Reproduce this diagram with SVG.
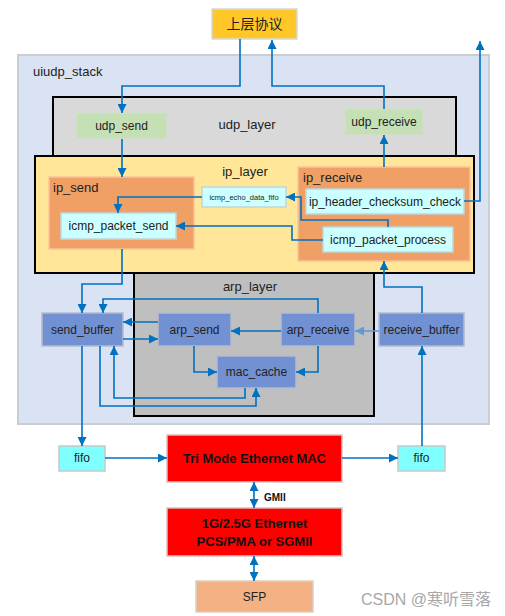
<svg xmlns="http://www.w3.org/2000/svg" width="505" height="616" viewBox="0 0 505 616">
<defs>
<style>
text{font-family:"Liberation Sans","Noto Sans CJK SC",sans-serif;fill:#222;font-size:12px}
.c{text-anchor:middle}
.b{font-weight:bold;fill:#111}
.layer{stroke:#000;stroke-width:2}
.green{fill:#C5E0B4;stroke:#D3DDD0;stroke-width:1.5}
.org{fill:#F0A064;stroke:#F7C49A;stroke-width:1.5}
.cyan{fill:#CCFFFF;stroke:#C2D6D6;stroke-width:1.5}
.blue{fill:#7291D2;stroke:#B4BCCB;stroke-width:1.5}
.fifo{fill:#80FFFF;stroke:#C0CCCC;stroke-width:1.5}
.red{fill:#FF0000;stroke:#D8C0C0;stroke-width:1.5}
.wire{fill:none;stroke:#0070C0;stroke-width:1.6}
</style>
<marker id="ah" viewBox="0 0 10 10" refX="10" refY="5" markerWidth="9" markerHeight="9" markerUnits="userSpaceOnUse" orient="auto-start-reverse"><path d="M0,0 L10,5 L0,10 z" fill="#0070C0"/></marker>
<marker id="ahl" viewBox="0 0 10 10" refX="10" refY="5" markerWidth="9" markerHeight="9" markerUnits="userSpaceOnUse" orient="auto"><path d="M0,0 L10,5 L0,10 z" fill="#5B9BD5"/></marker>
</defs>
<rect width="505" height="616" fill="#fff"/>
<g id="upper"><rect x="212" y="9" width="85" height="30" fill="#FFC828" stroke="#D8D8D8" stroke-width="1.5"/><text class="c" x="254.5" y="29" style="font-size:14px">上层协议</text></g>
<g id="uiudp_stack"><rect x="18" y="55" width="471" height="369" fill="#DAE3F3" stroke="#C9CDD4" stroke-width="2"/><text x="33" y="76" style="font-size:13px">uiudp_stack</text></g>
<g id="udp_layer"><rect class="layer" x="53" y="97" width="403" height="80" fill="#D9D9D9"/><text class="c" x="247" y="129" style="font-size:13px">udp_layer</text></g>
<g id="udp_send"><rect class="green" x="76" y="113" width="91" height="26"/><text class="c" x="121.5" y="130">udp_send</text></g>
<g id="udp_receive"><rect class="green" x="345" y="109" width="78" height="26"/><text class="c" x="384" y="126">udp_receive</text></g>
<g id="arp_layer"><rect class="layer" x="134" y="273" width="240" height="143" fill="#BFBFBF"/><text class="c" x="250" y="291" style="font-size:13px">arp_layer</text></g>
<g id="ip_layer"><rect class="layer" x="35" y="156" width="439" height="117" fill="#FFE699"/><text class="c" x="245" y="176" style="font-size:13px">ip_layer</text></g>
<g id="ip_send"><rect class="org" x="49" y="177" width="145" height="72"/><text x="53" y="192" style="font-size:13px">ip_send</text></g>
<g id="icmp_packet_send"><rect class="cyan" x="61" y="213" width="115" height="26"/><text class="c" x="118.5" y="230">icmp_packet_send</text></g>
<g id="icmp_echo_data_fifo"><rect class="cyan" x="202" y="187" width="84" height="20"/><text class="c" x="244" y="200" style="font-size:7.5px">icmp_echo_data_fifo</text></g>
<g id="ip_receive"><rect class="org" x="298" y="167" width="172" height="94"/><text x="303" y="182" style="font-size:13px">ip_receive</text></g>
<g id="ip_header_checksum_check"><rect class="cyan" x="306" y="189" width="158" height="25"/><text class="c" x="385" y="206">ip_header_checksum_check</text></g>
<g id="icmp_packet_process"><rect class="cyan" x="323" y="227" width="130" height="25"/><text class="c" x="388" y="244">icmp_packet_process</text></g>
<g id="send_buffer"><rect class="blue" x="42" y="313" width="81" height="33"/><text class="c" x="82.5" y="334">send_buffer</text></g>
<g id="arp_send"><rect class="blue" x="158" y="313" width="73" height="33"/><text class="c" x="194.5" y="334">arp_send</text></g>
<g id="arp_receive"><rect class="blue" x="281" y="313" width="74" height="33"/><text class="c" x="318" y="334">arp_receive</text></g>
<g id="receive_buffer"><rect class="blue" x="379" y="313" width="85" height="33"/><text class="c" x="421.5" y="334">receive_buffer</text></g>
<g id="mac_cache"><rect class="blue" x="217" y="356" width="79" height="32"/><text class="c" x="256.5" y="376">mac_cache</text></g>
<g id="fifo_tx"><rect class="fifo" x="59" y="446" width="46" height="25"/><text class="c" x="82" y="462">fifo</text></g>
<g id="tri_mode_mac"><rect class="red" x="167" y="435" width="175" height="47"/><text class="c b" x="254.5" y="463" style="font-size:13px">Tri Mode Ethernet MAC</text></g>
<g id="fifo_rx"><rect class="fifo" x="398" y="446" width="47" height="25"/><text class="c" x="421.5" y="462">fifo</text></g>
<g id="pcs_pma"><rect class="red" x="167" y="508" width="175" height="48"/><text class="c b" x="254.5" y="528" style="font-size:13px">1G/2.5G Ethernet</text><text class="c b" x="254.5" y="546" style="font-size:13px">PCS/PMA or SGMII</text></g>
<g id="sfp"><rect x="196" y="581" width="117" height="31" fill="#F4B183" stroke="#D8D0C8" stroke-width="1.5"/><text class="c" x="254.5" y="601">SFP</text></g>
<g id="connectors">
<path class="wire" d="M240,39 V86 H122 V113" marker-end="url(#ah)"/>
<path class="wire" d="M384,109 V86 H272 V40" marker-end="url(#ah)"/>
<path class="wire" d="M464,201 H480 V41" marker-end="url(#ah)"/>
<path class="wire" d="M122,139 V177" marker-end="url(#ah)"/>
<path class="wire" d="M384,167 V135" marker-end="url(#ah)"/>
<path class="wire" d="M388,227 V220 H301 V197 H286" marker-end="url(#ah)"/>
<path class="wire" d="M202,197 H118 V213" marker-end="url(#ah)"/>
<path class="wire" d="M323,240 H292 V226 H176" marker-end="url(#ah)"/>
<path class="wire" d="M122,249 V284 H82 V313" marker-end="url(#ah)"/>
<path class="wire" d="M422,313 V287 H384 V261" marker-end="url(#ah)"/>
<path class="wire" d="M318,313 V299 H103 V313" marker-end="url(#ah)"/>
<path class="wire" d="M158,322 H123" marker-end="url(#ah)"/>
<path class="wire" d="M123,339 H158" marker-end="url(#ah)"/>
<path class="wire" d="M281,331 H231" marker-end="url(#ah)"/>
<path class="wire" d="M379,331 H355" style="stroke:#5B9BD5" marker-end="url(#ahl)"/>
<path class="wire" d="M194,346 V372 H217" marker-end="url(#ah)"/>
<path class="wire" d="M318,346 V372 H296" marker-end="url(#ah)"/>
<path class="wire" d="M245,388 V398 H114 V346" marker-end="url(#ah)"/>
<path class="wire" d="M100,346 V406 H256 V388" marker-end="url(#ah)"/>
<path class="wire" d="M82,346 V446" marker-end="url(#ah)"/>
<path class="wire" d="M422,446 V346" marker-end="url(#ah)"/>
<path class="wire" d="M105,458 H167" marker-end="url(#ah)"/>
<path class="wire" d="M342,458 H398" marker-end="url(#ah)"/>
<path class="wire" d="M254,482 V508" marker-start="url(#ah)" marker-end="url(#ah)"/>
<path class="wire" d="M254,556 V581" marker-start="url(#ah)" marker-end="url(#ah)"/>
<text class="b" x="264" y="501" style="font-size:10px">GMII</text>
</g>
<text x="361" y="605" style="font-size:16px;fill:#A8A8A8">CSDN @寒听雪落</text>
</svg>
